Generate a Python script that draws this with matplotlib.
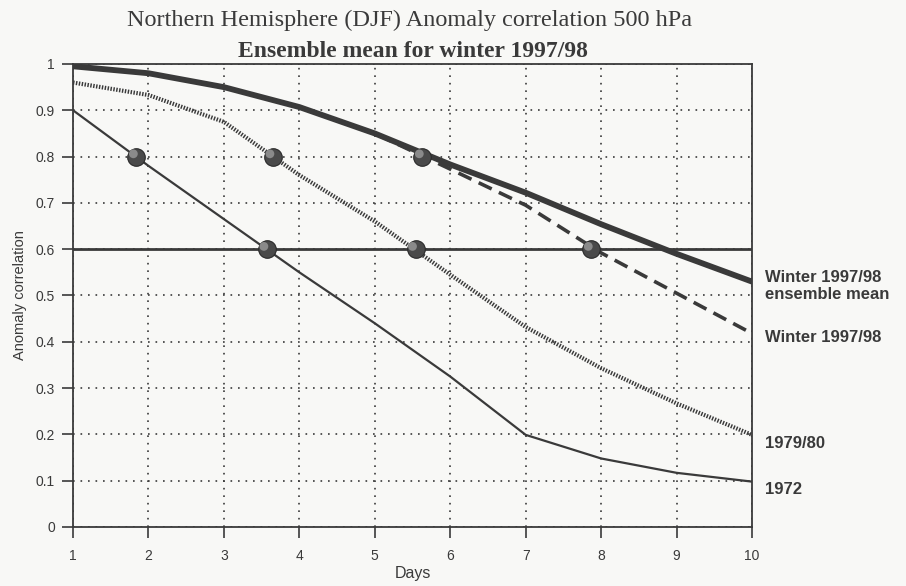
import numpy as np
import matplotlib.pyplot as plt

## data
days = [1, 2, 3, 4, 5, 6, 7, 8, 9, 10]
ens_mean_9798 = [0.995, 0.980, 0.950, 0.907, 0.850, 0.783, 0.722, 0.654, 0.590, 0.530]
winter_9798 = [0.995, 0.980, 0.950, 0.907, 0.850, 0.773, 0.695, 0.592, 0.505, 0.418]
winter_7980 = [0.960, 0.933, 0.875, 0.760, 0.660, 0.545, 0.432, 0.343, 0.267, 0.199]
winter_1972 = [0.900, 0.780, 0.665, 0.550, 0.440, 0.325, 0.199, 0.148, 0.117, 0.098]

# points where the curves reach 0.8 and 0.6
dot_days = [1.84, 3.57, 3.65, 5.54, 5.63, 7.87]
dot_corr = [0.8, 0.6, 0.8, 0.6, 0.8, 0.6]

line_labels = ['Winter 1997/98\nensemble mean', 'Winter 1997/98', '1979/80', '1972']
label_y = [0.52, 0.41, 0.18, 0.082]

## plt config
plt.rcParams['font.family'] = ['Liberation Sans', 'DejaVu Sans']
bg = '#f8f8f6'
ink = '#3a3a3a'
serif = ['Liberation Serif', 'DejaVu Serif']

fig = plt.figure(figsize=(9.06, 5.86), dpi=100, facecolor=bg)
ax = fig.add_axes([0.0806, 0.1007, 0.7494, 0.7901], facecolor=bg)

ax.plot(days, winter_1972, color=ink, lw=1.6, zorder=3)
ax.plot(days, winter_7980, color=ink, lw=3, ls=(0, (0.35, 0.35)), zorder=3)
ax.plot(days, winter_9798, color=ink, lw=2.6, ls=(0, (4, 2.2)), zorder=3)
ax.plot(days, ens_mean_9798, color=ink, lw=4.2, zorder=4)
ax.axhline(0.6, color=ink, lw=2, zorder=3)

# shaded balls
ax.scatter(dot_days, dot_corr, s=160, color='#4a4a4a', edgecolor='#2a2a2a', lw=0.8, zorder=5)
ax.scatter(np.array(dot_days) - 0.04, np.array(dot_corr) + 0.006, s=40, color='#8a8a8a',
           edgecolor='none', zorder=6)

ax.set_xlim(1, 10)
ax.set_ylim(0, 1)
ax.set_xticks(days)
ax.set_yticks(np.round(np.arange(0, 1.01, 0.1), 1))
ax.set_yticklabels(['0', '0.1', '0.2', '0.3', '0.4', '0.5', '0.6', '0.7', '0.8', '0.9', '1'])
ax.tick_params(labelsize=10, colors=ink, length=8, width=1.2)
ax.tick_params(axis='x', pad=8)
ax.tick_params(axis='y', pad=5)
ax.grid(True, ls=(0, (1, 3.5)), color=ink, lw=1.2)
for s in ax.spines.values():
    s.set_color(ink)
    s.set_linewidth(1.3)

ax.set_xlabel('Days', fontsize=11.5, color=ink, labelpad=2)
ax.set_ylabel('Anomaly correlation', fontsize=10.5, color=ink, labelpad=6)

for txt, yy in zip(line_labels, label_y):
    ax.text(10.17, yy, txt, fontsize=12, fontweight='bold', color=ink, va='center',
            linespacing=1.15, clip_on=False)

fig.text(0.452, 0.9556, 'Northern Hemisphere (DJF) Anomaly correlation 500 hPa',
         family=serif, fontsize=17.5, color=ink, ha='center', va='baseline')
fig.text(0.456, 0.9033, 'Ensemble mean for winter 1997/98',
         family=serif, fontsize=17, fontweight='bold', color=ink, ha='center', va='baseline')

plt.savefig('out.png', dpi=100, facecolor=bg)
